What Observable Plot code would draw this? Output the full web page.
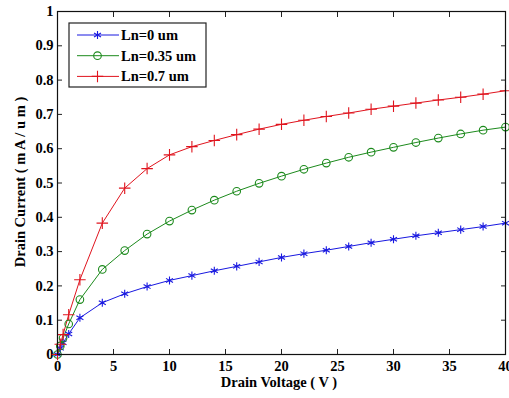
<!DOCTYPE html>
<html><head><meta charset="utf-8">
<script src="https://cdn.jsdelivr.net/npm/d3@7"></script>
<script src="https://cdn.jsdelivr.net/npm/@observablehq/plot@0.6"></script>
<style>
body{margin:0;background:#fff;}
#wrap{position:relative;width:509px;height:398px;overflow:hidden;}
.t{position:absolute;font:bold 14.5px "Liberation Serif","Times New Roman",serif;color:#000;white-space:nowrap;}
svg text{font-family:"Liberation Serif","Times New Roman",serif;font-weight:bold;}
</style></head><body><div id="wrap"></div>
<script>
const voltage = [0,0.25,0.5,1,2,4,6,8,10,12,14,16,18,20,22,24,26,28,30,32,34,36,38,40];
const ln0   = [0,0.018,0.034,0.06,0.107,0.151,0.177,0.198,0.216,0.230,0.244,0.257,0.270,0.283,0.294,0.304,0.315,0.326,0.336,0.346,0.355,0.364,0.373,0.383];
const ln035 = [0,0.025,0.048,0.089,0.160,0.248,0.303,0.351,0.389,0.421,0.450,0.476,0.499,0.520,0.540,0.558,0.575,0.590,0.604,0.618,0.631,0.643,0.654,0.663];
const ln07  = [0,0.030,0.058,0.116,0.218,0.383,0.485,0.542,0.582,0.606,0.624,0.641,0.657,0.671,0.683,0.694,0.704,0.715,0.724,0.733,0.742,0.750,0.759,0.769];
const seriesNames = ["Ln=0 um","Ln=0.35 um","Ln=0.7 um"];
const seriesColors = ["#1818e0","#1c8a1c","#e0141e"];
const seriesSymbols = ["asterisk","circle","plus"];
const xTicks = [0,5,10,15,20,25,30,35,40];
const xTickLabels = ["0","5","10","15","20","25","30","35","40"];
const yTicks = [0,0.1,0.2,0.3,0.4,0.5,0.6,0.7,0.8,0.9,1];
const yTickLabels = ["0","0.1","0.2","0.3","0.4","0.5","0.6","0.7","0.8","0.9","1"];
const xTitle = "Drain Voltage ( V )";
const yTitle = "Drain Current ( m A / u m )";

const seriesValues = [ln0, ln035, ln07];
const rows = [];
seriesValues.forEach((vals, s) => vals.forEach((v, i) => rows.push({v: voltage[i], i: v, series: seriesNames[s]})));

const colorScale = {domain: seriesNames, range: seriesColors};
const symbolScale = {domain: seriesNames, range: seriesSymbols};

const chart = Plot.plot({
  width: 509, height: 398,
  marginLeft: 57, marginRight: 4, marginTop: 11, marginBottom: 44,
  style: {fontFamily: "Liberation Serif, Times New Roman, serif", fontSize: "14.5px", fontWeight: "bold", background: "transparent", color: "#000", overflow: "visible"},
  x: {domain: [0, 40]},
  y: {domain: [0, 1]},
  color: colorScale,
  symbol: symbolScale,
  marks: [
    Plot.axisX({ticks: xTicks, tickSize: -5, tickPadding: 11, tickFormat: d => xTickLabels[xTicks.indexOf(d)], label: null, stroke: "#222"}),
    Plot.axisX({anchor: "top", ticks: xTicks, tickSize: -5, tickFormat: () => "", label: null, stroke: "#222"}),
    Plot.axisY({ticks: yTicks, tickSize: -5, tickPadding: 9, tickFormat: d => yTickLabels[yTicks.indexOf(d)], label: null, stroke: "#222"}),
    Plot.axisY({anchor: "right", ticks: yTicks, tickSize: -5, tickFormat: () => "", label: null, stroke: "#222"}),
    Plot.line(rows, {x: "v", y: "i", z: "series", stroke: "series", strokeWidth: 1}),
    Plot.dot(rows, {x: "v", y: "i", stroke: "series", symbol: "series", r: 3.8, strokeWidth: 1.1, fill: "none"}),
    Plot.frame({stroke: "#111", strokeWidth: 1.2})
  ]
});
const wrap = document.getElementById("wrap");
chart.style.position = "absolute";
chart.style.left = "0px";
chart.style.top = "0px";
wrap.appendChild(chart);

// axis titles
const xt = document.createElement("div");
xt.className = "t";
xt.textContent = xTitle;
xt.style.left = "279px"; xt.style.top = "374px"; xt.style.transform = "translateX(-50%)";
wrap.appendChild(xt);
const yt = document.createElement("div");
yt.className = "t";
yt.textContent = yTitle;
yt.style.left = "20px"; yt.style.top = "182px"; yt.style.transform = "translate(-50%,-50%) rotate(-90deg)";
wrap.appendChild(yt);

// legend
const lg = d3.select(wrap).append("svg")
  .attr("width", 139).attr("height", 66)
  .style("position", "absolute").style("left", "68px").style("top", "22px");
lg.append("rect").attr("x", 1).attr("y", 1).attr("width", 137).attr("height", 64)
  .attr("fill", "#fff").attr("stroke", "#222").attr("stroke-width", 1.2);
const symMap = {asterisk: d3.symbolAsterisk, circle: d3.symbolCircle, plus: d3.symbolPlus};
seriesNames.forEach((name, k) => {
  const cy = 13 + k * 20.7;
  const g = lg.append("g");
  g.append("line").attr("x1", 9).attr("x2", 51).attr("y1", cy).attr("y2", cy)
    .attr("stroke", seriesColors[k]).attr("stroke-width", 1);
  g.append("path").attr("transform", `translate(29.5,${cy})`)
    .attr("d", d3.symbol(symMap[seriesSymbols[k]], Math.PI * 3.8 * 3.8)())
    .attr("fill", "none").attr("stroke", seriesColors[k]).attr("stroke-width", 1.1);
  g.append("text").attr("x", 53).attr("y", cy).attr("dy", "0.35em")
    .attr("font-size", 14.5)
    .text(name);
});
</script>
</body></html>
